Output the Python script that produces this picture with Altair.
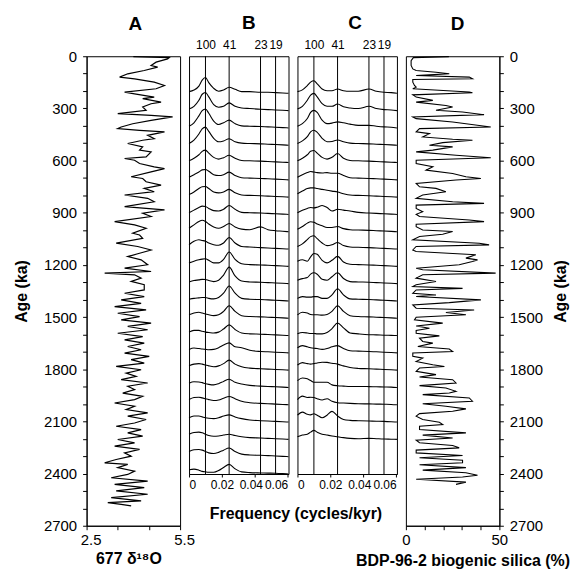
import altair as alt
import pandas as pd

# ---------------- data ----------------
# Panel A: ODP 677 d18O (age ka, per mil)
AGE_A = [2, 8, 15, 34, 53, 63, 82, 101, 120, 130, 149, 168, 187, 206, 216, 235, 244, 264, 273, 292,
         311, 330, 340, 349, 369, 388, 407, 416, 426, 435, 455, 474, 483, 502, 521, 540, 550, 579, 588, 598,
         617, 636, 646, 665, 693, 703, 722, 741, 760, 779, 798, 817, 837, 865, 884, 903, 922, 951, 970, 989,
         1018, 1028, 1047, 1075, 1094, 1114, 1133, 1152, 1171, 1199, 1219, 1238, 1247, 1257, 1276, 1295, 1314,
         1344, 1363, 1382, 1401, 1421, 1440, 1459, 1478, 1497, 1516, 1535, 1554, 1573, 1593, 1612, 1631, 1650,
         1669, 1688, 1707, 1726, 1745, 1765, 1784, 1803, 1822, 1841, 1860, 1879, 1898, 1917, 1937, 1956, 1975,
         1994, 2013, 2032, 2051, 2070, 2089, 2109, 2128, 2147, 2166, 2185, 2204, 2223, 2242, 2261, 2281, 2300,
         2319, 2338, 2347, 2366, 2386, 2405, 2424, 2443, 2462, 2481, 2500, 2519, 2538, 2557, 2567, 2577, 2586]
D18O = [4.00, 5.15, 5.10, 4.73, 4.57, 4.78, 4.35, 3.82, 3.56, 4.04, 4.67, 5.00, 4.73, 3.72, 4.04, 4.67, 4.30, 4.89, 4.57, 4.30,
        4.41, 3.50, 4.57, 5.26, 4.57, 3.98, 3.61, 3.50, 4.20, 5.00, 4.46, 4.67, 4.30, 3.82, 4.30, 4.20, 4.57, 4.41, 3.72, 4.04,
        4.20, 4.67, 5.00, 4.57, 3.93, 4.30, 4.41, 4.89, 4.35, 4.67, 3.72, 4.46, 4.67, 3.72, 5.00, 4.30, 4.57, 3.40, 4.04, 4.41,
        3.98, 4.20, 4.30, 3.45, 4.14, 4.57, 4.20, 3.82, 4.25, 4.46, 3.72, 4.57, 3.08, 4.04, 4.25, 3.93, 4.35,
        4.35, 3.72, 4.35, 3.61, 4.25, 3.40, 4.41, 3.50, 4.20, 3.61, 4.57, 3.82, 4.46, 3.50, 4.30, 3.72, 4.35,
        3.82, 4.25, 3.72, 4.51, 3.93, 4.35, 3.45, 4.25, 3.77, 4.09, 3.61, 4.46, 3.82, 4.04, 3.66, 4.30, 4.04,
        3.40, 4.04, 3.77, 4.46, 3.82, 4.41, 4.04, 3.45, 4.25, 3.82, 4.30, 3.50, 4.04, 3.40, 4.20, 3.72, 3.93,
        3.45, 3.08, 3.82, 3.50, 4.04, 3.82, 3.29, 4.46, 3.40, 4.35, 3.45, 4.46, 3.29, 4.25, 3.18, 3.61, 3.93]

# Panel D: BDP-96-2 biogenic silica (age ka, %)
AGE_D = [2, 8, 25, 53, 73, 82, 92, 101, 107, 111, 120, 130, 134, 149, 168, 178, 187, 206, 210, 222,
         235, 254, 264, 283, 292, 311, 321, 336, 349, 359, 378, 407, 416, 435, 445, 464, 477, 483, 497, 512,
         521, 540, 550, 569, 584, 598, 617, 636, 655, 674, 693, 703, 712, 731, 751, 760, 779, 798, 817, 837,
         846, 856, 875, 894, 909, 922, 942, 951, 966, 980, 999, 1008, 1024, 1037, 1056, 1075, 1085, 1094, 1114,
         1123, 1142, 1161, 1171, 1180, 1199, 1219, 1228, 1247, 1257, 1276, 1295, 1314,
         1325, 1335, 1344, 1363, 1373, 1382, 1401, 1417, 1430, 1449, 1459, 1474, 1487, 1501, 1516, 1535, 1551,
         1564, 1577, 1593, 1608, 1621, 1640, 1650, 1669, 1684, 1698, 1707, 1726, 1736, 1755, 1774, 1784, 1793,
         1812, 1831, 1845, 1860, 1879, 1894, 1908, 1927, 1937, 1946, 1965, 1984, 1998, 2013, 2028, 2042, 2055,
         2070, 2089, 2105, 2118, 2128, 2147, 2166, 2179, 2195, 2208, 2223, 2239, 2252, 2265, 2281, 2296, 2309,
         2323, 2338, 2349, 2366, 2380, 2395, 2410, 2420, 2433, 2449, 2462]
SILICA = [23.0, 4.0, 2.8, 2.8, 3.7, 5.5, 16.1, 23.2, 12.6, 5.5, 33.9, 35.6, 3.7, 3.7, 4.6, 5.5, 3.7, 33.9, 35.6, 3.7,
          5.5, 14.4, 5.5, 21.4, 25.0, 16.1, 30.3, 41.8, 3.7, 5.5, 25.0, 45.4, 7.3, 5.5, 12.6, 9.0, 25.0, 35.6, 19.7, 12.6,
          25.0, 14.4, 5.5, 26.8, 45.4, 5.5, 5.5, 14.4, 10.8, 25.0, 32.1, 40.1, 26.8, 5.5, 7.3, 16.1, 21.4, 9.0, 5.5, 25.0,
          41.8, 5.5, 5.5, 9.0, 5.5, 7.3, 33.9, 41.8, 5.5, 5.5, 9.0, 25.0, 19.7, 7.3, 3.7, 39.2, 44.5, 5.5, 3.7,
          5.5, 37.4, 32.1, 38.3, 35.6, 28.5, 5.5, 9.0, 48.0, 9.0, 5.5, 16.1, 5.5,
          3.7, 30.3, 5.5, 3.7, 16.1, 5.5, 40.1, 23.2, 3.7, 5.5, 36.5, 21.4, 32.1, 5.5, 4.6, 19.7, 5.5,
          12.6, 5.5, 5.5, 17.9, 7.3, 9.0, 14.4, 6.4, 23.2, 25.0, 3.7, 3.7, 9.0, 5.5, 14.4, 20.6, 7.3,
          5.5, 16.1, 7.3, 25.0, 26.8, 7.3, 21.4, 26.8, 23.2, 9.0, 33.9, 35.6, 9.0, 21.4, 32.1, 25.0, 7.3,
          5.5, 9.0, 17.9, 19.7, 7.3, 7.3, 32.1, 9.0, 25.0, 5.5, 7.3, 25.0, 28.5, 5.5, 5.5, 30.3, 7.3,
          30.3, 30.3, 7.3, 32.1, 9.0, 32.1, 38.3, 30.3, 5.5, 32.1, 26.8]

# Panels B and C: evolutive spectra (relative power vs frequency, cycles/kyr)
FREQ = [0, 0.003, 0.006, 0.008, 0.010, 0.012, 0.015, 0.018, 0.021, 0.0244,
        0.028, 0.032, 0.037, 0.0435, 0.048, 0.0526, 0.057, 0.0605]
PERIODS = [100, 41, 23, 19]
FREQ_TICKS = [0, 0.02, 0.04, 0.06]

B_SPEC = [
    [0.10, 0.19, 0.42, 0.77, 0.92, 0.62, 0.29, 0.12, 0.19, 0.35, 0.23, 0.10, 0.10, 0.06, 0.06, 0.04, 0.02, 0],
    [0.10, 0.25, 0.60, 0.95, 1.05, 0.80, 0.35, 0.20, 0.25, 0.45, 0.25, 0.15, 0.12, 0.08, 0.06, 0.04, 0.02, 0],
    [0.10, 0.30, 0.70, 1.00, 1.10, 0.85, 0.40, 0.20, 0.30, 0.45, 0.25, 0.12, 0.10, 0.08, 0.06, 0.04, 0.02, 0],
    [0.10, 0.30, 0.65, 0.95, 1.05, 0.80, 0.40, 0.20, 0.25, 0.38, 0.20, 0.12, 0.10, 0.08, 0.06, 0.04, 0.02, 0],
    [0.10, 0.25, 0.45, 0.65, 0.72, 0.55, 0.30, 0.20, 0.28, 0.42, 0.25, 0.12, 0.10, 0.08, 0.06, 0.04, 0.02, 0],
    [0.15, 0.30, 0.45, 0.58, 0.60, 0.50, 0.30, 0.25, 0.30, 0.45, 0.25, 0.12, 0.10, 0.08, 0.06, 0.04, 0.02, 0],
    [0.15, 0.30, 0.50, 0.60, 0.62, 0.50, 0.30, 0.25, 0.30, 0.45, 0.25, 0.12, 0.10, 0.08, 0.06, 0.04, 0.02, 0],
    [0.10, 0.25, 0.40, 0.48, 0.46, 0.35, 0.22, 0.20, 0.30, 0.52, 0.30, 0.12, 0.10, 0.08, 0.06, 0.04, 0.02, 0],
    [0.20, 0.40, 0.60, 0.67, 0.60, 0.45, 0.28, 0.20, 0.30, 0.48, 0.28, 0.15, 0.12, 0.28, 0.12, 0.06, 0.03, 0],
    [0.25, 0.45, 0.54, 0.50, 0.45, 0.35, 0.25, 0.22, 0.35, 0.67, 0.35, 0.15, 0.12, 0.08, 0.06, 0.04, 0.02, 0],
    [0.20, 0.30, 0.38, 0.42, 0.44, 0.35, 0.20, 0.20, 0.40, 0.83, 0.40, 0.15, 0.10, 0.08, 0.06, 0.04, 0.02, 0],
    [0.10, 0.18, 0.22, 0.25, 0.24, 0.18, 0.12, 0.20, 0.50, 0.96, 0.45, 0.15, 0.10, 0.08, 0.06, 0.04, 0.02, 0],
    [0.10, 0.15, 0.18, 0.20, 0.20, 0.15, 0.12, 0.20, 0.45, 0.87, 0.45, 0.15, 0.10, 0.08, 0.06, 0.04, 0.02, 0],
    [0.20, 0.30, 0.35, 0.30, 0.25, 0.20, 0.15, 0.20, 0.40, 0.73, 0.40, 0.15, 0.10, 0.08, 0.06, 0.04, 0.02, 0],
    [0.20, 0.30, 0.30, 0.25, 0.20, 0.18, 0.15, 0.20, 0.38, 0.62, 0.35, 0.15, 0.10, 0.08, 0.06, 0.04, 0.02, 0],
    [0.20, 0.28, 0.25, 0.22, 0.20, 0.18, 0.20, 0.30, 0.45, 0.58, 0.35, 0.30, 0.15, 0.08, 0.06, 0.04, 0.02, 0],
    [0.25, 0.35, 0.38, 0.35, 0.30, 0.25, 0.20, 0.25, 0.38, 0.58, 0.35, 0.20, 0.12, 0.08, 0.06, 0.04, 0.02, 0],
    [0.25, 0.33, 0.32, 0.28, 0.22, 0.18, 0.15, 0.22, 0.35, 0.48, 0.30, 0.20, 0.12, 0.08, 0.06, 0.04, 0.02, 0],
    [0.30, 0.42, 0.44, 0.40, 0.35, 0.30, 0.25, 0.28, 0.38, 0.48, 0.35, 0.20, 0.12, 0.08, 0.06, 0.04, 0.02, 0],
    [0.25, 0.35, 0.35, 0.30, 0.25, 0.22, 0.20, 0.25, 0.35, 0.42, 0.30, 0.20, 0.12, 0.08, 0.06, 0.04, 0.02, 0],
    [0.30, 0.40, 0.42, 0.38, 0.30, 0.22, 0.18, 0.20, 0.25, 0.30, 0.22, 0.15, 0.10, 0.08, 0.06, 0.04, 0.02, 0],
    [0.30, 0.40, 0.42, 0.38, 0.30, 0.22, 0.18, 0.25, 0.38, 0.50, 0.30, 0.15, 0.10, 0.08, 0.06, 0.04, 0.02, 0],
    [0.25, 0.28, 0.22, 0.15, 0.12, 0.10, 0.10, 0.20, 0.38, 0.56, 0.30, 0.12, 0.08, 0.06, 0.05, 0.04, 0.02, 0],
]

C_SPEC = [
    [0.10, 0.20, 0.45, 0.65, 0.73, 0.55, 0.25, 0.15, 0.15, 0.25, 0.15, 0.12, 0.12, 0.25, 0.12, 0.06, 0.04, 0],
    [0.10, 0.25, 0.60, 0.90, 1.00, 0.80, 0.40, 0.25, 0.25, 0.38, 0.22, 0.15, 0.12, 0.25, 0.12, 0.06, 0.04, 0],
    [0.10, 0.25, 0.55, 0.90, 1.02, 0.90, 0.45, 0.25, 0.28, 0.35, 0.30, 0.22, 0.15, 0.15, 0.10, 0.06, 0.04, 0],
    [0.10, 0.25, 0.50, 0.78, 0.87, 0.75, 0.40, 0.20, 0.22, 0.30, 0.20, 0.12, 0.10, 0.08, 0.06, 0.04, 0.02, 0],
    [0.10, 0.25, 0.45, 0.65, 0.70, 0.55, 0.30, 0.20, 0.30, 0.52, 0.25, 0.12, 0.10, 0.08, 0.06, 0.04, 0.02, 0],
    [0.15, 0.30, 0.42, 0.48, 0.45, 0.42, 0.40, 0.42, 0.38, 0.38, 0.25, 0.12, 0.10, 0.08, 0.06, 0.04, 0.02, 0],
    [0.20, 0.35, 0.50, 0.54, 0.54, 0.50, 0.45, 0.40, 0.35, 0.30, 0.20, 0.12, 0.10, 0.08, 0.06, 0.04, 0.02, 0],
    [0.10, 0.25, 0.35, 0.40, 0.38, 0.42, 0.52, 0.40, 0.20, 0.30, 0.25, 0.20, 0.12, 0.08, 0.06, 0.04, 0.02, 0],
    [0.15, 0.30, 0.50, 0.58, 0.55, 0.45, 0.35, 0.25, 0.25, 0.30, 0.18, 0.12, 0.10, 0.08, 0.06, 0.04, 0.02, 0],
    [0.15, 0.30, 0.55, 0.72, 0.77, 0.60, 0.35, 0.20, 0.25, 0.38, 0.20, 0.12, 0.10, 0.08, 0.06, 0.04, 0.02, 0],
    [0.30, 0.38, 0.30, 0.55, 0.75, 0.70, 0.35, 0.20, 0.35, 0.58, 0.25, 0.12, 0.10, 0.08, 0.06, 0.04, 0.02, 0],
    [0.20, 0.29, 0.35, 0.55, 0.63, 0.55, 0.25, 0.20, 0.40, 0.63, 0.30, 0.12, 0.10, 0.08, 0.06, 0.04, 0.02, 0],
    [0.15, 0.25, 0.22, 0.22, 0.25, 0.25, 0.15, 0.15, 0.35, 0.71, 0.35, 0.12, 0.10, 0.08, 0.06, 0.04, 0.02, 0],
    [0.20, 0.35, 0.30, 0.22, 0.20, 0.20, 0.18, 0.22, 0.40, 0.73, 0.40, 0.15, 0.10, 0.08, 0.06, 0.04, 0.02, 0],
    [0.10, 0.18, 0.15, 0.12, 0.12, 0.10, 0.10, 0.18, 0.40, 0.73, 0.45, 0.15, 0.10, 0.05, 0.04, 0.02, 0.01, 0],
    [0.30, 0.42, 0.35, 0.30, 0.27, 0.25, 0.20, 0.25, 0.35, 0.42, 0.25, 0.12, 0.10, 0.08, 0.06, 0.04, 0.02, 0],
    [0.30, 0.44, 0.38, 0.35, 0.38, 0.42, 0.46, 0.45, 0.40, 0.35, 0.25, 0.15, 0.10, 0.08, 0.06, 0.04, 0.02, 0],
    [0.40, 0.55, 0.50, 0.40, 0.30, 0.30, 0.30, 0.30, 0.15, 0.10, 0.08, 0.06, 0.06, 0.05, 0.04, 0.03, 0.02, 0],
    [0.30, 0.50, 0.42, 0.44, 0.42, 0.35, 0.28, 0.35, 0.20, 0.12, 0.10, 0.08, 0.06, 0.05, 0.04, 0.03, 0.02, 0],
    [0.40, 0.58, 0.45, 0.42, 0.48, 0.40, 0.25, 0.40, 0.62, 0.35, 0.15, 0.10, 0.08, 0.06, 0.05, 0.04, 0.02, 0],
    [0.15, 0.25, 0.30, 0.42, 0.52, 0.42, 0.30, 0.25, 0.20, 0.15, 0.10, 0.06, 0.04, 0.06, 0.04, 0.02, 0.01, 0],
]

# ---------------- layout constants ----------------
FONT = "Liberation Sans"
H_FULL = 472                       # 0-2700 ka
H_SPEC = round(H_FULL * 2400 / 2700)  # 0-2400 ka
BASE0, STEP, ROW = 213, 99.4, 99   # spectrum baselines (ka) and height scale

age_ticks = list(range(0, 2701, 100))
age_label = "datum.value % 300 === 0 ? format(datum.value, 'd') : ''"


def spec_df(specs):
    rows = []
    for i, hs in enumerate(specs):
        for f, h in zip(FREQ, hs):
            rows.append({"win": i, "f": f, "h": h, "base": BASE0 + STEP * i})
    return pd.DataFrame(rows)


def panel_title(letter, dx, offset, dy):
    return alt.TitleParams(letter, fontSize=19, fontWeight="bold", font=FONT,
                           anchor="middle", dx=dx, dy=dy, offset=offset, baseline="alphabetic")


# ---------------- panel A ----------------
a_df = pd.DataFrame({"age": AGE_A, "d18o": D18O})
panel_a = alt.Chart(a_df).mark_line(color="black", strokeWidth=1.2).encode(
    x=alt.X("d18o:Q", scale=alt.Scale(domain=[2.5, 5.5], nice=False, zero=False),
            axis=alt.Axis(values=[2.5, 3.5, 4.5, 5.5],
                          labelExpr="datum.value === 2.5 || datum.value === 5.5 ? format(datum.value, '.1f') : ''",
                          labelFlush=False, labelOffset=4, labelOverlap=False,
                          title="677 δ¹⁸O", titleX=42, titlePadding=3, labelPadding=3,
                          labelFontSize=15, titleFontSize=16, titleFontWeight="bold", tickSize=4)),
    y=alt.Y("age:Q", scale=alt.Scale(domain=[0, 2700], reverse=True, nice=False),
            axis=alt.Axis(values=age_ticks, labelExpr=age_label, title="Age (ka)", labelOverlap=False,
                          labelFontSize=15, titleFontSize=16, titleFontWeight="bold",
                          tickSize=4, labelPadding=6, titlePadding=14)),
    order="age:Q",
).properties(width=94, height=H_FULL, title=panel_title("A", 2, 24, 24))


# ---------------- spectra panels ----------------
def spectra_panel(specs, letter, dx, with_title, title_x):
    df = spec_df(specs)
    fscale = alt.Scale(domain=[0, FREQ[-1]], nice=False, zero=False)
    lines = alt.Chart(df).mark_line(color="black", strokeWidth=1.1, interpolate="monotone").transform_calculate(
        yv="datum.base - datum.h * %d" % ROW
    ).encode(
        x=alt.X("f:Q", scale=fscale,
                axis=alt.Axis(values=FREQ_TICKS, orient="bottom",
                              labelExpr="datum.value === 0 ? '0' : format(datum.value, '.2f')",
                              labelOffset={"condition": {"test": "datum.value > 0.03 && datum.value < 0.05",
                                                         "value": -4}, "value": 0},
                              labelOverlap=False, labelFontSize=12, tickSize=3, labelPadding=3,
                              title="Frequency (cycles/kyr)" if with_title else None,
                              titleX=title_x, titleAlign="center",
                              titleFontSize=16, titleFontWeight="bold", titlePadding=15)),
        y=alt.Y("yv:Q", scale=alt.Scale(domain=[0, 2400], reverse=True, nice=False), axis=None),
        detail="win:N",
        order="f:Q",
    )
    rules = alt.Chart(pd.DataFrame({"period": PERIODS})).transform_calculate(
        f="1 / datum.period"
    ).mark_rule(color="black", strokeWidth=1).encode(
        x=alt.X("f:Q", scale=fscale,
                axis=alt.Axis(orient="top", values=[1 / p for p in PERIODS],
                              labelExpr="format(1 / datum.value, '.0f')", labelOverlap=False,
                              labelFlush=False,
                              ticks=False, domain=False, labelFontSize=12, labelPadding=5,
                              title=None))
    )
    return alt.layer(lines, rules).resolve_axis(x="independent").properties(
        width=100, height=H_SPEC, title=panel_title(letter, dx, 6, 16))


panel_b = spectra_panel(B_SPEC, "B", 10, True, 107)
panel_c = spectra_panel(C_SPEC, "C", 8, False, 0)

# ---------------- panel D ----------------
d_df = pd.DataFrame({"age": AGE_D, "silica": SILICA})
panel_d = alt.Chart(d_df).mark_line(color="black", strokeWidth=1.1).encode(
    x=alt.X("silica:Q", scale=alt.Scale(domain=[0, 50], nice=False),
            axis=alt.Axis(values=[0, 10, 20, 30, 40, 50],
                          labelExpr="datum.value === 0 || datum.value === 50 ? format(datum.value, 'd') : ''",
                          labelFlush=False, labelOverlap=False,
                          title="BDP-96-2 biogenic silica (%)", titleX=57, titleAlign="center",
                          labelFontSize=15, titleFontSize=16, titleFontWeight="bold",
                          tickSize=4, labelPadding=3, titlePadding=5)),
    y=alt.Y("age:Q", scale=alt.Scale(domain=[0, 2700], reverse=True, nice=False),
            axis=alt.Axis(orient="right", values=age_ticks, labelExpr=age_label, title="Age (ka)",
                          titleAngle=270, titleBaseline="top", labelOverlap=False,
                          labelFontSize=15, titleFontSize=16, titleFontWeight="bold",
                          tickSize=4, labelPadding=6, titlePadding=10)),
    order="age:Q",
).properties(width=94, height=H_FULL, title=panel_title("D", 5, 24, 24))

chart = alt.hconcat(panel_a, panel_b, panel_c, panel_d, spacing=9, bounds="flush").configure_view(
    stroke="black", strokeWidth=1
).configure_axis(
    domainColor="black", tickColor="black", labelColor="black", titleColor="black",
    labelFont=FONT, titleFont=FONT, grid=False, domainWidth=1, tickWidth=1
).configure_title(color="black", font=FONT).properties(
    padding={"left": 5, "top": 4, "right": 0, "bottom": 0}, background="white"
)

chart.save("out.html", embed_options={"renderer": "svg", "actions": False})
